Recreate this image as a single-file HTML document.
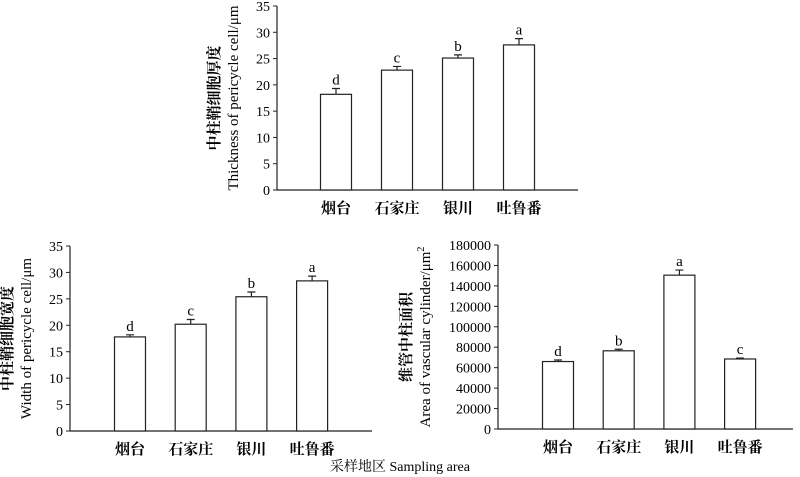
<!DOCTYPE html>
<html><head><meta charset="utf-8"><style>
body{margin:0;background:#fff}
svg{display:block;font-family:"Liberation Serif","Noto Serif CJK SC",serif}
</style></head><body>
<svg id="s" width="800" height="477" viewBox="0 0 800 477">
<text x="400" y="471" text-anchor="middle" font-size="14">采样地区 Sampling area</text>
</svg>
<script>
const categories=["烟台","石家庄","银川","吐鲁番"];
const thickVals=[18.2,22.8,25.1,27.6];
const thickErr=[1.1,0.7,0.6,1.2];
const thickLetters=["d","c","b","a"];
const widthVals=[17.8,20.2,25.4,28.4];
const widthErr=[0.4,0.9,0.9,0.9];
const widthLetters=["d","c","b","a"];
const areaVals=[66000,76500,150500,68500];
const areaErr=[1500,1500,5000,800];
const areaLetters=["d","b","a","c"];
const ticks35=[0,5,10,15,20,25,30,35];
const ticks180=[0,20000,40000,60000,80000,100000,120000,140000,160000,180000];

const NS="http://www.w3.org/2000/svg";
const svg=document.getElementById('s');
function mk(tag,attrs,parent){const e=document.createElementNS(NS,tag);for(const k in attrs)e.setAttribute(k,attrs[k]);(parent||svg).appendChild(e);return e;}

function chart(cfg){
  const g=mk('g',{});
  
  
  const max=cfg.ticks[cfg.ticks.length-1];
  const y=v=>cfg.y0-(v/max)*(cfg.y0-cfg.yTop);
  const x=i=>cfg.x0+cfg.first+i*cfg.step;
  const ax=mk('path',{d:`M${cfg.x0},${cfg.yTop} V${cfg.y0} H${cfg.xEnd}`,stroke:'#222','stroke-width':1.2,fill:'none'},g);
  
  
  cfg.ticks.forEach(t=>{
    mk('line',{x1:cfg.x0-4,x2:cfg.x0,y1:y(t),y2:y(t),stroke:'#222','stroke-width':1},g);
    const tx=mk('text',{x:cfg.x0-7,y:y(t)+5,'text-anchor':'end','font-size':14},g);
    tx.textContent=t;
    
    
  });
  cfg.vals.forEach((v,i)=>{
    const cx=x(i),w=31;
    const r=mk('rect',{x:cx-w/2,y:y(v),width:w,height:cfg.y0-y(v),fill:'#fff',stroke:'#222','stroke-width':1.2},g);
    
    
    const ye=y(v+cfg.err[i]);
    const eb=mk('path',{d:`M${cx},${y(v)} V${ye} M${cx-4},${ye} H${cx+4}`,stroke:'#222','stroke-width':1.2,fill:'none'},g);
    
    
    const lt=mk('text',{x:cx,y:ye-4,'text-anchor':'middle','font-size':15},g);
    lt.textContent=cfg.letters[i];
    
    
    const cl=mk('text',{x:cx,y:cfg.y0+23,'text-anchor':'middle','font-size':15,'font-weight':'bold'},g);
    cl.textContent=categories[i];
    
    
  });
  const cy=(cfg.y0+cfg.yTop)/2;
  const t1=mk('text',{transform:`translate(${cfg.tx},${cy}) rotate(-90)`,'text-anchor':'middle','font-size':15,'font-weight':'bold'},g);
  t1.textContent=cfg.t1;
  
  
  const t2=mk('text',{transform:`translate(${cfg.tx+19},${cy}) rotate(-90)`,'text-anchor':'middle','font-size':15},g);
  t2.innerHTML=cfg.t2;
  
  
}
chart({name:'thickness-chart',x0:277,xEnd:578,y0:190,yTop:6,first:59,step:61,ticks:ticks35,vals:thickVals,err:thickErr,letters:thickLetters,tx:219,t1:'中柱鞘细胞厚度',t2:'Thickness of pericycle cell/μm'});
chart({name:'width-chart',x0:70,xEnd:372,y0:431,yTop:246,first:60,step:60.7,ticks:ticks35,vals:widthVals,err:widthErr,letters:widthLetters,tx:12,t1:'中柱鞘细胞宽度',t2:'Width of pericycle cell/μm'});
chart({name:'area-chart',x0:498,xEnd:793,y0:429,yTop:245,first:60,step:60.7,ticks:ticks180,vals:areaVals,err:areaErr,letters:areaLetters,tx:411,t1:'维管中柱面积',t2:'Area of vascular cylinder/μm<tspan dy="-6" font-size="10">2</tspan>'});
</script>
</body></html>
